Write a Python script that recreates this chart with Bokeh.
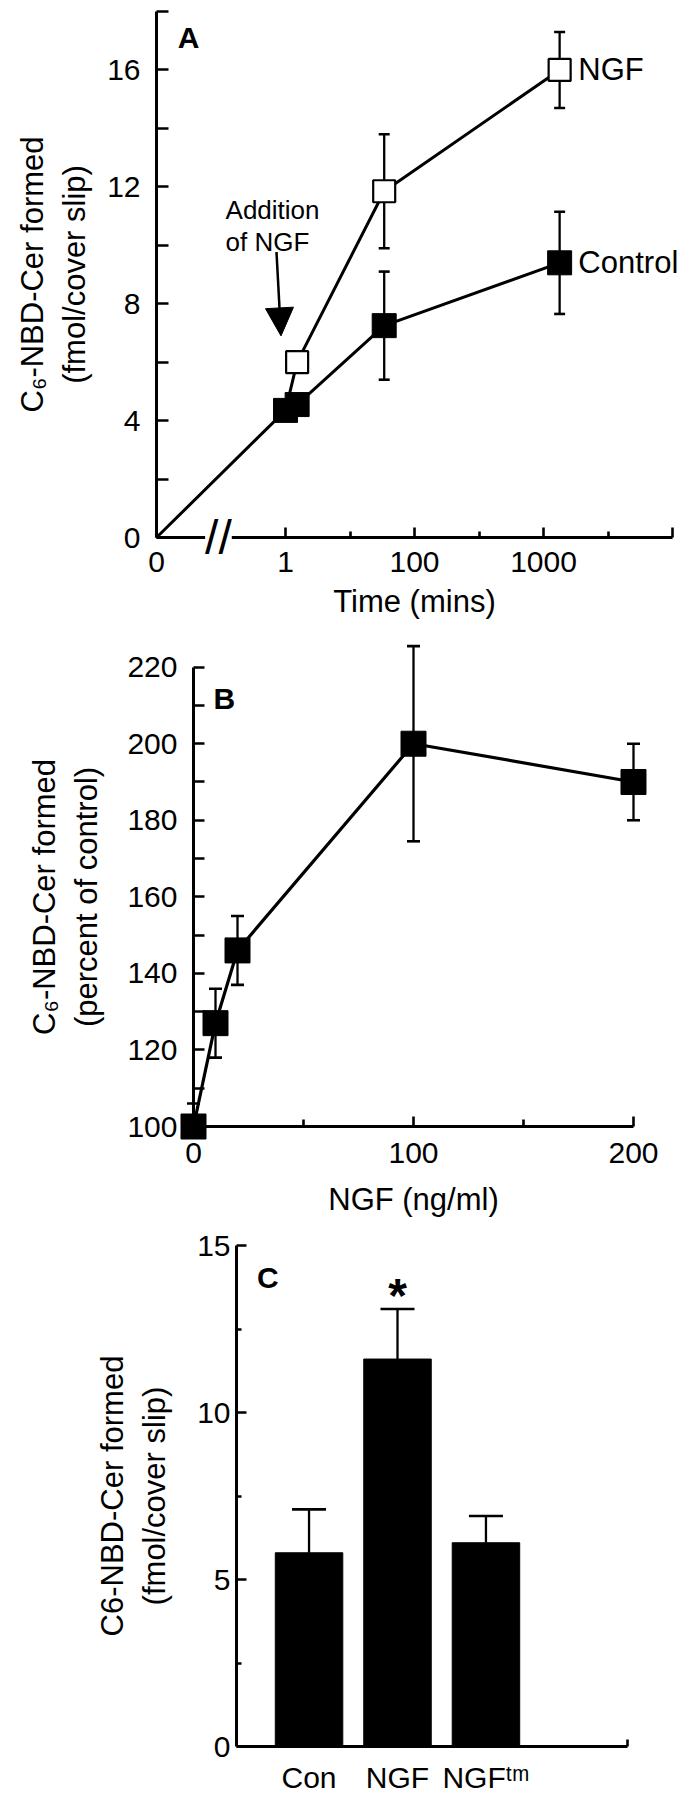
from bokeh.plotting import figure
from bokeh.models import (ColumnDataSource, Whisker, TeeHead, FixedTicker, Arrow,
                          NormalHead, Label, Range1d)
from bokeh.embed import file_html
from bokeh.resources import INLINE

FONT = "Liberation Sans"

# ---------------- Panel A data ----------------
a_tick_pos = [-2, 0, 2, 4, 6]
a_tick_labels = ["0", "1", "100", "1000", ""]
a_minor_pos = [1, 3, 5]
a_line_ctrl_x = [-2, 0, 0.18, 1.53, 4.25]
a_line_ctrl_y = [0, 4.35, 4.55, 7.25, 9.4]
a_ctrl_x = [0, 0.18, 1.53, 4.25]
a_ctrl_y = [4.35, 4.55, 7.25, 9.4]
a_ctrl_err = [0, 0, 1.85, 1.75]
a_line_ngf_x = [0, 0.18, 1.53, 4.25]
a_line_ngf_y = [4.35, 6.0, 11.85, 16.0]
a_ngf_x = [0.18, 1.53, 4.25]
a_ngf_y = [6.0, 11.85, 16.0]
a_ngf_err = [0, 1.95, 1.3]

# ---------------- Panel B data ----------------
b_dose = [0, 10, 20, 100, 200]
b_pct = [100, 127, 146, 200, 190]
b_err_up = [6, 9, 9, 25.5, 10]
b_err_down = [0, 9, 9, 25.5, 10]

# ---------------- Panel C data ----------------
c_groups = ["Con", "NGF", "NGF\u1d57\u1d50"]
c_pos = [1, 2, 3]
c_vals = [5.8, 11.6, 6.1]
c_err = [1.3, 1.5, 0.8]


def style(p):
    p.xgrid.visible = False
    p.ygrid.visible = False
    p.outline_line_color = None
    p.background_fill_color = "white"
    p.border_fill_color = "white"
    for ax in (p.xaxis[0], p.yaxis[0]):
        ax.axis_line_width = 3
        ax.axis_line_color = "black"
        ax.major_tick_line_width = 2.6
        ax.minor_tick_line_width = 2.6
        ax.major_tick_line_color = "black"
        ax.minor_tick_line_color = "black"
        ax.major_tick_out = 0
        ax.minor_tick_out = 0
        ax.major_label_text_font = FONT
        ax.major_label_text_font_size = "30px"
        ax.major_label_text_color = "black"
        ax.axis_label_text_font = FONT
        ax.axis_label_text_font_size = "31px"
        ax.axis_label_text_font_style = "normal"
        ax.axis_label_text_color = "black"


def lab(p, x, y, text, size="31px", bold=False, align="left", baseline="alphabetic", **kw):
    p.add_layout(Label(x=x, y=y, text=text, text_font=FONT, text_font_size=size,
                       text_font_style="bold" if bold else "normal",
                       text_align=align, text_baseline=baseline, text_color="black", **kw))


def whisk(p, xs, ups, lows, size, lower=True):
    src = ColumnDataSource(dict(x=xs, upper=ups, lower=lows))
    w = Whisker(source=src, base="x", upper="upper", lower="lower", dimension="height",
                line_color="black", line_width=2.3, level="underlay",
                upper_head=TeeHead(size=size, line_color="black", line_width=2.6),
                lower_head=TeeHead(size=size, line_color="black", line_width=2.6) if lower else None)
    p.add_layout(w)


# ================= Panel A =================
# frame covers the whole canvas; axes are fixed at x=0 (broken axis origin) and y=0
pA = figure(width=692, height=624, output_backend="svg", toolbar_location=None,
            x_range=Range1d(-4.419, 6.31), y_range=Range1d(-2.977, 18.377),
            min_border_left=0, min_border_right=0, min_border_top=0, min_border_bottom=0)
style(pA)
pA.xaxis.fixed_location = 0
pA.yaxis.fixed_location = -2
pA.xaxis.bounds = (-2, 6)
pA.yaxis.bounds = (0, 18)
pA.xaxis.ticker = FixedTicker(ticks=a_tick_pos, minor_ticks=a_minor_pos)
pA.xaxis.major_label_overrides = {t: l for t, l in zip(a_tick_pos, a_tick_labels)}
pA.xaxis.major_tick_in = 10
pA.xaxis.minor_tick_in = 6
pA.xaxis.major_label_standoff = 14
pA.xaxis.axis_label = "Time (mins)"
pA.xaxis.axis_label_standoff = 9
pA.yaxis.ticker = FixedTicker(ticks=[0, 4, 8, 12, 16], minor_ticks=[2, 6, 10, 14, 18])
pA.yaxis.major_tick_in = 12
pA.yaxis.minor_tick_in = 12
pA.yaxis.major_label_standoff = 16
pA.yaxis.axis_label = "C\u2086-NBD-Cer formed\n(fmol/cover slip)"
pA.yaxis.axis_label_standoff = 12

pA.line(a_line_ctrl_x, a_line_ctrl_y, line_color="black", line_width=3)
pA.line(a_line_ngf_x, a_line_ngf_y, line_color="black", line_width=3)
whisk(pA, a_ctrl_x[2:], [v + e for v, e in zip(a_ctrl_y[2:], a_ctrl_err[2:])],
      [v - e for v, e in zip(a_ctrl_y[2:], a_ctrl_err[2:])], 11)
whisk(pA, a_ngf_x[1:], [v + e for v, e in zip(a_ngf_y[1:], a_ngf_err[1:])],
      [v - e for v, e in zip(a_ngf_y[1:], a_ngf_err[1:])], 11)
pA.scatter(a_ctrl_x, a_ctrl_y, marker="square", size=24, fill_color="black", line_color="black")
pA.scatter(a_ngf_x, a_ngf_y, marker="square", size=22, fill_color="white", line_color="black",
           line_width=2.2)

lab(pA, -1.67, 17.12, "A", size="30px", bold=True)
lab(pA, 4.54, a_ngf_y[-1], "NGF", baseline="middle")
lab(pA, 4.54, a_ctrl_y[-1], "Control", baseline="middle")
lab(pA, -0.93, 11.22, "Addition", size="26px")
lab(pA, -0.93, 10.11, "of NGF", size="26px")
pA.add_layout(Arrow(x_start=-0.14, y_start=9.77, x_end=-0.07, y_end=6.9,
                    line_color="black", line_width=2.5,
                    end=NormalHead(size=28, fill_color="black", line_color="black")))
lab(pA, -1.04, 0, "//", size="48px", align="center", baseline="middle",
    background_fill_color="white", background_fill_alpha=1.0)

# ================= Panel B =================
pB = figure(width=692, height=594, output_backend="svg", toolbar_location=None,
            x_range=Range1d(-87.73, 226.82), y_range=Range1d(75.97, 231.14),
            min_border_left=0, min_border_right=0, min_border_top=0, min_border_bottom=0)
style(pB)
pB.xaxis.fixed_location = 100
pB.yaxis.fixed_location = 0
pB.xaxis.bounds = (0, 200)
pB.yaxis.bounds = (100, 220)
pB.xaxis.ticker = FixedTicker(ticks=[0, 100, 200], minor_ticks=[50, 150])
pB.xaxis.major_tick_in = 10
pB.xaxis.minor_tick_in = 7
pB.xaxis.major_label_standoff = 16
pB.xaxis.axis_label = "NGF (ng/ml)"
pB.xaxis.axis_label_standoff = 16
pB.yaxis.ticker = FixedTicker(ticks=[100, 120, 140, 160, 180, 200, 220],
                              minor_ticks=[110, 130, 150, 170, 190, 210])
pB.yaxis.major_tick_in = 11
pB.yaxis.minor_tick_in = 11
pB.yaxis.major_label_standoff = 16
pB.yaxis.axis_label = "C\u2086-NBD-Cer formed\n(percent of control)"
pB.yaxis.axis_label_standoff = 20

pB.line(b_dose, b_pct, line_color="black", line_width=3.2)
whisk(pB, b_dose, [v + e for v, e in zip(b_pct, b_err_up)],
      [v - e for v, e in zip(b_pct, b_err_down)], 13)
pB.scatter(b_dose, b_pct, marker="square", size=25, fill_color="black", line_color="black")
lab(pB, 9.1, 211.7, "B", size="30px", bold=True)

# ================= Panel C =================
pC = figure(width=692, height=582, output_backend="svg", toolbar_location=None,
            x_range=Range1d(0.18, 4.6), y_range=Range1d(0, 15),
            min_border_left=236, min_border_right=65, min_border_top=27, min_border_bottom=54)
style(pC)
pC.xaxis.ticker = FixedTicker(ticks=c_pos, minor_ticks=[4.6])
pC.xaxis.major_label_overrides = {p: g for p, g in zip(c_pos, c_groups)}
pC.xaxis.major_tick_in = 0
pC.xaxis.minor_tick_in = 7
pC.xaxis.major_label_standoff = 14
pC.yaxis.ticker = FixedTicker(ticks=[0, 5, 10, 15], minor_ticks=[2.5, 7.5, 12.5])
pC.yaxis.major_tick_in = 10
pC.yaxis.minor_tick_in = 5
pC.yaxis.major_label_standoff = 6
pC.yaxis.axis_label = "C6-NBD-Cer formed\n(fmol/cover slip)"
pC.yaxis.axis_label_standoff = 22

whisk(pC, c_pos, [v + e for v, e in zip(c_vals, c_err)], c_vals, 34, lower=False)
pC.vbar(x=c_pos, top=c_vals, width=0.763, fill_color="black", line_color="black")
lab(pC, 0.412, 14.04, "C", size="30px", bold=True)
lab(pC, 2, 13.5, "*", size="48px", bold=True, align="center")

open("out.html", "w").write(file_html([pA, pB, pC], INLINE))
